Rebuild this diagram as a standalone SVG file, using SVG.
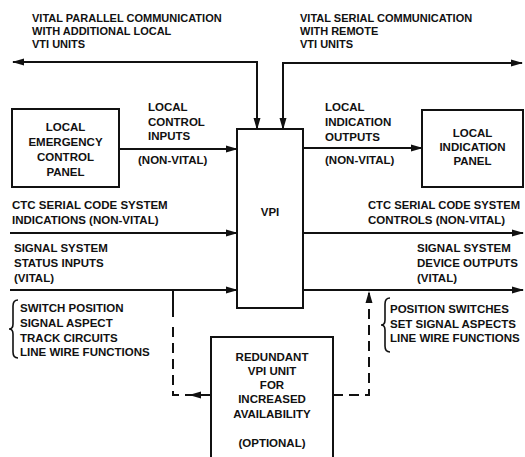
<svg xmlns="http://www.w3.org/2000/svg" width="525" height="457" viewBox="0 0 525 457">
<style>
.t{font-family:"Liberation Sans",Arial,sans-serif;font-weight:bold;font-size:11.5px;fill:#111}
.h{font-family:"Liberation Sans",Arial,sans-serif;font-weight:bold;font-size:11px;fill:#111}
.c{text-anchor:middle}
.box{fill:#fff;stroke:#111;stroke-width:2}
.ln{fill:none;stroke:#111;stroke-width:2}
.ds{fill:none;stroke:#111;stroke-width:2;stroke-dasharray:10 6}
.br{fill:none;stroke:#111;stroke-width:1.6}
</style>
<defs>
<marker id="ah" viewBox="0 0 12 8" refX="11" refY="4" markerWidth="12" markerHeight="8" markerUnits="userSpaceOnUse" orient="auto-start-reverse">
<path d="M0,0.5 L12,4 L0,7.5 Z" fill="#111"/>
</marker>
</defs>
<rect width="525" height="457" fill="#fff"/>
<g id="top-labels">
<text class="h" x="32" y="22">VITAL PARALLEL COMMUNICATION</text>
<text class="h" x="32" y="35">WITH ADDITIONAL LOCAL</text>
<text class="h" x="32" y="48">VTI UNITS</text>
<text class="h" x="300" y="22">VITAL SERIAL COMMUNICATION</text>
<text class="h" x="300" y="35">WITH REMOTE</text>
<text class="h" x="300" y="48">VTI UNITS</text>
</g>
<g id="connectors">
<path class="ln" d="M13,62 L257,62 L257,129" marker-start="url(#ah)" marker-end="url(#ah)"/>
<path class="ln" d="M283,129 L283,63 L522,63" marker-start="url(#ah)" marker-end="url(#ah)"/>
<path class="ln" d="M119,149 L237,149" marker-end="url(#ah)"/>
<path class="ln" d="M303,148 L422,148" marker-end="url(#ah)"/>
<path class="ln" d="M10,233 L237,233" marker-end="url(#ah)"/>
<path class="ln" d="M10,290 L237,290" marker-end="url(#ah)"/>
<path class="ln" d="M303,233 L523,233" marker-end="url(#ah)"/>
<path class="ln" d="M303,290 L523,290" marker-end="url(#ah)"/>
<path class="ln" d="M173,290 L173,317"/>
<path class="ds" d="M173,327 L173,395 L190,395"/>
<path class="ln" d="M211,395 L190,395" marker-end="url(#ah)"/>
<path class="ds" d="M333,395 L369,395 L369,292" marker-end="url(#ah)"/>
</g>
<g id="vpi">
<rect class="box" x="237" y="129" width="66" height="179"/>
<text class="t c" x="270" y="216">VPI</text>
</g>
<g id="local-emergency-control-panel">
<rect class="box" x="12" y="109" width="107" height="78"/>
<text class="t c" x="65.5" y="131">LOCAL</text>
<text class="t c" x="65.5" y="146">EMERGENCY</text>
<text class="t c" x="65.5" y="161">CONTROL</text>
<text class="t c" x="65.5" y="176">PANEL</text>
</g>
<g id="local-indication-panel">
<rect class="box" x="422" y="110" width="101" height="77"/>
<text class="t c" x="472.5" y="137">LOCAL</text>
<text class="t c" x="472.5" y="151">INDICATION</text>
<text class="t c" x="472.5" y="165">PANEL</text>
</g>
<g id="redundant-vpi">
<path class="box" d="M211,459 L211,337 L333,337 L333,459"/>
<text class="t c" x="272" y="361">REDUNDANT</text>
<text class="t c" x="272" y="375">VPI UNIT</text>
<text class="t c" x="272" y="389">FOR</text>
<text class="t c" x="272" y="403">INCREASED</text>
<text class="t c" x="272" y="418">AVAILABILITY</text>
<text class="t c" x="272" y="447">(OPTIONAL)</text>
</g>
<g id="labels">
<text class="t" x="148" y="111">LOCAL</text>
<text class="t" x="148" y="126">CONTROL</text>
<text class="t" x="148" y="140">INPUTS</text>
<text class="t" x="138" y="164">(NON-VITAL)</text>
<text class="t" x="325" y="111">LOCAL</text>
<text class="t" x="325" y="126">INDICATION</text>
<text class="t" x="325" y="141">OUTPUTS</text>
<text class="t" x="325" y="164">(NON-VITAL)</text>
<text class="t" x="12" y="209">CTC SERIAL CODE SYSTEM</text>
<text class="t" x="12" y="224">INDICATIONS (NON-VITAL)</text>
<text class="t" x="14" y="252">SIGNAL SYSTEM</text>
<text class="t" x="14" y="267">STATUS INPUTS</text>
<text class="t" x="14" y="282">(VITAL)</text>
<text class="t" x="368" y="209" textLength="152" lengthAdjust="spacingAndGlyphs">CTC SERIAL CODE SYSTEM</text>
<text class="t" x="368" y="224">CONTROLS (NON-VITAL)</text>
<text class="t" x="417" y="252">SIGNAL SYSTEM</text>
<text class="t" x="417" y="267">DEVICE OUTPUTS</text>
<text class="t" x="417" y="282">(VITAL)</text>
<path class="br" d="M18,300 Q13,300 13,306 L13,324 Q13,329 9,329 Q13,329 13,334 L13,352 Q13,358 18,358"/>
<text class="t" x="20" y="312">SWITCH POSITION</text>
<text class="t" x="20" y="327">SIGNAL ASPECT</text>
<text class="t" x="20" y="342">TRACK CIRCUITS</text>
<text class="t" x="20" y="356">LINE WIRE FUNCTIONS</text>
<path class="br" d="M390,298 Q385,298 385,304 L385,320 Q385,325 381,325 Q385,325 385,330 L385,346 Q385,352 390,352"/>
<text class="t" x="390" y="313">POSITION SWITCHES</text>
<text class="t" x="390" y="328">SET SIGNAL ASPECTS</text>
<text class="t" x="390" y="342">LINE WIRE FUNCTIONS</text>
</g>
</svg>
